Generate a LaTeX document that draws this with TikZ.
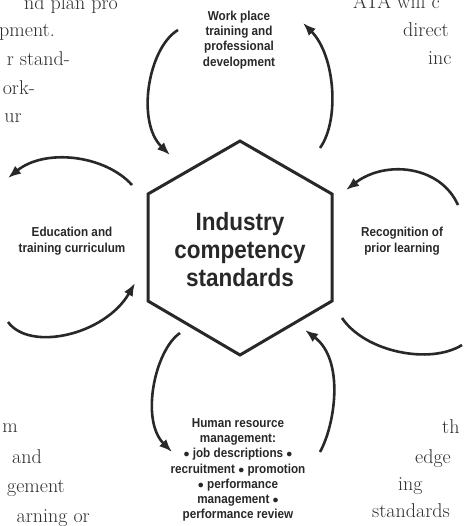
\documentclass[tikz,border=0pt]{standalone}
\usepackage{fontspec}
\usepackage{tikz}
\usetikzlibrary{arrows.meta}
\newfontfamily\lblfont[FakeStretch=0.9]{Liberation Sans}
\definecolor{inkgray}{RGB}{40,40,40}
\definecolor{pagegray}{RGB}{45,45,45}
\tikzset{
  cyclearrow/.style={draw=inkgray,line width=2.6pt,-{Latex[length=13pt,width=10pt]}},
  cycleline/.style={draw=inkgray,line width=2.6pt},
  smalllabel/.style={inner sep=0.75pt,align=center,text=inkgray,font=\lblfont\bfseries\fontsize{13}{15.2}\selectfont},
  pagetext/.style={inner sep=0pt,text=pagegray,font=\fontsize{20}{20}\selectfont}
}

\begin{document}
\begin{tikzpicture}[x=1pt,y=1pt,yscale=-1,xscale=1]
\useasboundingbox (0,0) rectangle (464,526);

%Shape: Hexagon [id:hexcore]
\draw [draw=inkgray,line width=3pt] (240,141) -- (332,194) -- (332,301) -- (240,355) -- (148,301) -- (148,194) -- cycle ;

% Text Node
\node (core) at (240,250) [inner sep=0.75pt,align=center,text=inkgray,font=\lblfont\bfseries\fontsize{25}{28}\selectfont] {Industry\\competency\\standards};
% Text Node
\node (work) at (239,40) [smalllabel] {Work place\\training and\\professional\\development};
% Text Node
\node (edu) at (72,241) [smalllabel,font=\lblfont\bfseries\fontsize{13}{16}\selectfont] {Education and\\training curriculum};
% Text Node
\node (rpl) at (402,241) [smalllabel,font=\lblfont\bfseries\fontsize{13}{16}\selectfont] {Recognition of\\prior learning};
% Text Node
\node (hrm) at (238,470) [smalllabel] {Human resource\\management:\\$\bullet$ job descriptions $\bullet$\\recruitment $\bullet$ promotion\\$\bullet$ performance\\management $\bullet$\\performance review};

% Arrow ends
\coordinate (tl-s) at (178,30);  \coordinate (tl-e) at (170,155);
\coordinate (tr-s) at (320,148); \coordinate (tr-e) at (303,23);
\coordinate (lu-s) at (132,185); \coordinate (lu-e) at (8,178);
\coordinate (ll-s) at (8,322);   \coordinate (ll-e) at (135,283);
\coordinate (ru-s) at (458,205); \coordinate (ru-e) at (346,190);
\coordinate (rl-s) at (342,318); \coordinate (rl-e) at (462,345);
\coordinate (bl-s) at (180,333); \coordinate (bl-e) at (172,452);
\coordinate (br-s) at (320,452); \coordinate (br-e) at (305,330);

%Shape: Curved Arrows
\draw [cyclearrow] (tl-s) .. controls (148,48) and (136,122) .. (tl-e);
\draw [cyclearrow] (tr-s) .. controls (340,120) and (335,55) .. (tr-e);
\draw [cyclearrow] (lu-s) .. controls (105,155) and (45,148) .. (lu-e);
\draw [cyclearrow] (ll-s) .. controls (30,352) and (105,335) .. (ll-e);
\draw [cyclearrow] (ru-s) .. controls (440,165) and (385,160) .. (ru-e);
\draw [cycleline] (rl-s) .. controls (365,352) and (430,365) .. (rl-e);
\draw [cyclearrow] (bl-s) .. controls (155,350) and (140,420) .. (bl-e);
\draw [cyclearrow] (br-s) .. controls (335,425) and (345,360) .. (br-e);

% Text Node
\node (p1) at (118,10) [pagetext,anchor=base east] {nd plan pro};
\node (p2) at (55,37) [pagetext,anchor=base east] {pment.};
\node (p3) at (70,66) [pagetext,anchor=base east] {r stand-};
\node (p4) at (35,95) [pagetext,anchor=base east] {ork-};
\node (p5) at (22,123) [pagetext,anchor=base east] {ur};
% Text Node
\node (q1) at (353,9) [pagetext,anchor=base west] {ATA will c};
\node (q2) at (403,37) [pagetext,anchor=base west] {direct};
\node (q3) at (428,65) [pagetext,anchor=base west] {inc};
% Text Node
\node (r1) at (18,432) [pagetext,anchor=base east] {m};
\node (r2) at (42,463) [pagetext,anchor=base east] {and};
\node (r3) at (65,492) [pagetext,anchor=base east] {gement};
\node (r4) at (90,522) [pagetext,anchor=base east] {arning or};
% Text Node
\node (s1) at (442,433) [pagetext,anchor=base west] {th};
\node (s2) at (415,463) [pagetext,anchor=base west] {edge};
\node (s3) at (398,490) [pagetext,anchor=base west] {ing};
\node (s4) at (372,517) [pagetext,anchor=base west] {standards};

\end{tikzpicture}
\end{document}
